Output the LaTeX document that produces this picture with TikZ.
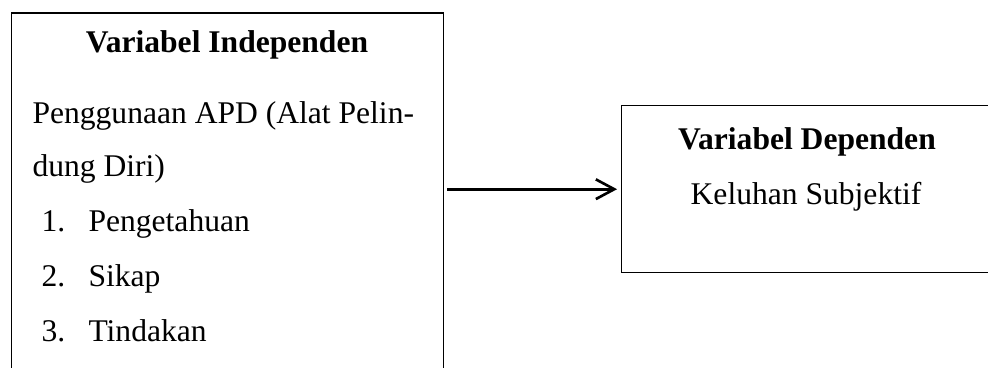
\documentclass[tikz,border=0pt]{standalone}
\usepackage{fontspec}
\setmainfont{Liberation Serif}
\usepackage{tikz}
\usetikzlibrary{positioning,arrows.meta}

\begin{document}
\begin{tikzpicture}[
  x=0.38pt, y=-0.38pt,
  every node/.style={font=\fontsize{12}{14}\selectfont, inner sep=0pt},
  box/.style={draw, line width=0.5pt, minimum width=#1, anchor=north west},
  flow/.style={-{Straight Barb[length=7pt, width=7.5pt, line width=1pt]}, line width=1pt},
  title/.style={font=\fontsize{12}{14}\selectfont\bfseries, anchor=base},
  entry/.style={anchor=base west},
]

% Page
\clip (0,0) rectangle (988,367);
\useasboundingbox (0,0) rectangle (988,367);

% Boxes
\node[box=164.2pt, minimum height=150pt] (indep) at (11,12.5) {};
\node[box=140.6pt, minimum height=63.5pt] (dep) at (621,105) {};

% Independent variable
\node[title] (indeptitle) at (227,53) {Variabel Independen};
\node[entry] (apd1) at (32,123) {Penggunaan APD (Alat Pelin-};
\node[entry] (apd2) at (32,176) {dung Diri)};
\node[entry] (num1) at (41,231) {1.};
\node[entry] (item1) at (88,231) {Pengetahuan};
\node[entry] (num2) at (41,286) {2.};
\node[entry] (item2) at (88,286) {Sikap};
\node[entry] (num3) at (41,341) {3.};
\node[entry] (item3) at (88,341) {Tindakan};

% Dependent variable
\node[title] (deptitle) at (807,150) {Variabel Dependen};
\node[anchor=base] (keluhan) at (806,204) {Keluhan Subjektif};

% Arrow
\draw[flow, shorten <=1pt, shorten >=1.5pt] (indep.east |- dep.west) -- (dep.west);

\end{tikzpicture}
\end{document}
